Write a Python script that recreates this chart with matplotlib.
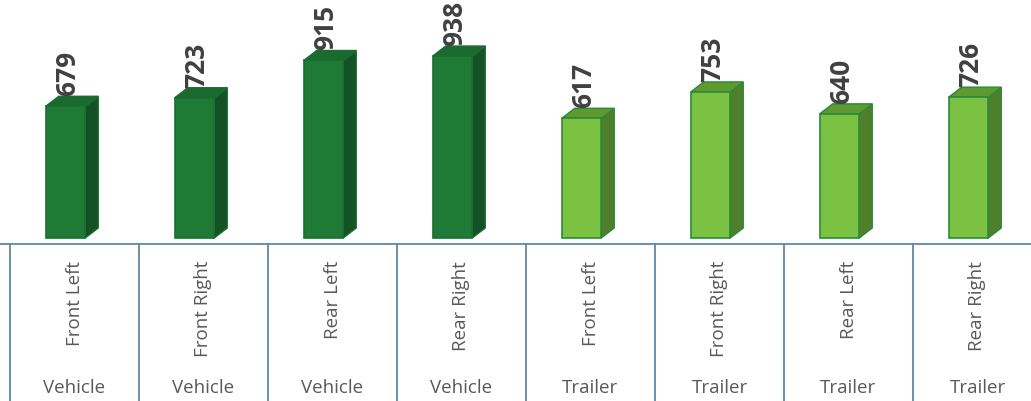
import matplotlib.pyplot as plt
from matplotlib.patches import Polygon

# data
positions = ["Front Left", "Front Right", "Rear Left", "Rear Right",
             "Front Left", "Front Right", "Rear Left", "Rear Right"]
groups = ["Vehicle", "Vehicle", "Vehicle", "Vehicle",
          "Trailer", "Trailer", "Trailer", "Trailer"]
weights = [679, 723, 915, 938, 617, 753, 640, 726]

# colours per group: front, side, top, edge
palette = {
    "Vehicle": ("#1f7a36", "#145226", "#1a6a2e", "#1b6e31"),
    "Trailer": ("#7cc242", "#4f7f2a", "#5e9a30", "#2b8a3a"),
}

W, H, DPI = 1031, 402, 100
slot_px = 129.0
left_px = 10.0
base_px = 163.0          # bar base, px from bottom
px_per_unit = 0.194

fig = plt.figure(figsize=(W / DPI, H / DPI), dpi=DPI)
ax = fig.add_axes([0, 0, 1, 1])
x0 = -0.5 - left_px / slot_px
ax.set_xlim(x0, x0 + W / slot_px)
u = 1 / px_per_unit
ax.set_ylim(-base_px * u, (H - base_px) * u)
ax.axis("off")

xs = list(range(len(weights)))
bar_w = 39.5 / slot_px
shift = -9.0 / slot_px
dx = 13.0 / slot_px
dy = 10.0 * u

bars = ax.bar([x + shift for x in xs], weights, width=bar_w,
              color=[palette[g][0] for g in groups],
              edgecolor=[palette[g][3] for g in groups], linewidth=1.2, zorder=3)

for rect, g, v in zip(bars, groups, weights):
    front, side, top, edge = palette[g]
    bx, bw, bh = rect.get_x(), rect.get_width(), rect.get_height()
    side_poly = Polygon([(bx + bw, 0), (bx + bw + dx, dy), (bx + bw + dx, bh + dy), (bx + bw, bh)],
                        closed=True, facecolor=side, edgecolor=edge, lw=1.0, zorder=2)
    top_poly = Polygon([(bx, bh), (bx + dx, bh + dy), (bx + bw + dx, bh + dy), (bx + bw, bh)],
                       closed=True, facecolor=top, edgecolor=edge, lw=1.0, zorder=2)
    ax.add_patch(side_poly)
    ax.add_patch(top_poly)
    ax.text(bx + bw / 2 + 2 / slot_px, bh + dy + 1 * u, str(v), rotation=90,
            ha="center", va="bottom", fontsize=19, fontweight="bold",
            family=["Open Sans", "DejaVu Sans"], color="#404040", zorder=4)

# category axis
axis_y = -6 * u
line_c = "#5f88a8"
ax.axhline(axis_y, color=line_c, lw=1.3, zorder=1)
for i in range(len(weights) + 1):
    ax.plot([i - 0.5, i - 0.5], [axis_y, -base_px * u], color=line_c, lw=1.3,
            clip_on=False, zorder=1)

for x, p, g in zip(xs, positions, groups):
    ax.text(x, -(base_px - 141) * u, p, rotation=90, ha="center", va="top",
            fontsize=13.5, family="Open Sans", color="#595959")
    ax.text(x, -(base_px - 14) * u, g, ha="center", va="center",
            fontsize=13.5, family="Open Sans", color="#595959")

fig.savefig("out.png", dpi=DPI)
